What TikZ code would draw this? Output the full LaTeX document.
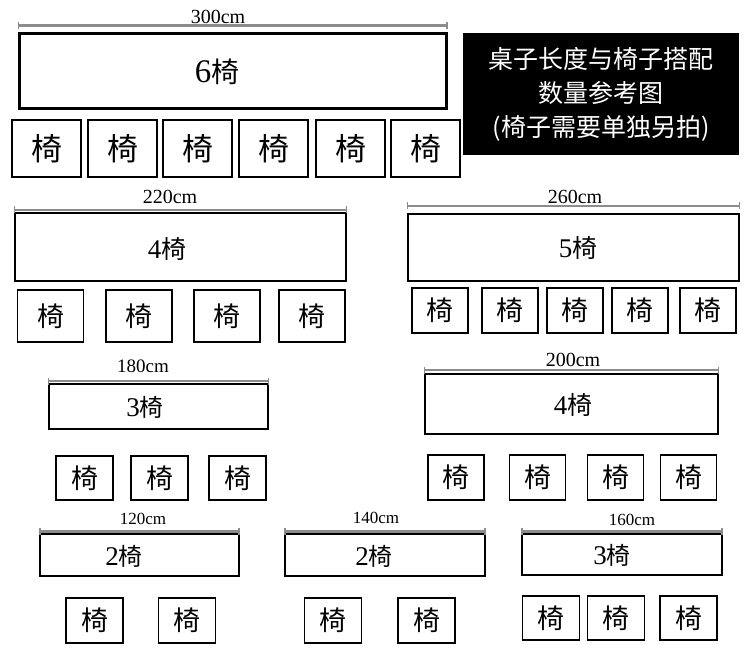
\documentclass[tikz,border=0pt]{standalone}
\usepackage{fontspec}
\setmainfont{Liberation Serif}
\newfontfamily\cjk{Noto Sans CJK SC}
\usetikzlibrary{arrows.meta}
\definecolor{dimGray}{HTML}{8C8C8C}

\begin{document}
\begin{tikzpicture}[x=1pt,y=-1pt,
  tbl/.style={draw,line width=#1,inner sep=0pt},
  chair/.style={draw,line width=1.8pt,inner sep=0pt,font=\cjk\fontsize{27}{27}\selectfont},
  tlbl/.style={inner sep=0pt,font=\fontsize{27}{27}\selectfont},
  dim/.style={draw=dimGray,line width=2.4pt,{Bar[width=7pt,line width=1.2pt]}-{Bar[width=7pt,line width=1.2pt]}},
  dlbl/.style={inner sep=0pt,font=\fontsize{20}{20}\selectfont}
]
\useasboundingbox (0,0) rectangle (750,661);
% tables
\node[tbl=3pt,minimum width=427pt,minimum height=74pt] (t300) at (232.5,71) {};
\node[tbl=2.2pt,minimum width=331pt,minimum height=68pt] (t220) at (180.5,247) {};
\node[tbl=2.2pt,minimum width=331pt,minimum height=67pt] (t260) at (573.5,247.5) {};
\node[tbl=1.5pt,minimum width=219pt,minimum height=45pt] (t180) at (158.5,406.5) {};
\node[tbl=2pt,minimum width=293pt,minimum height=60pt] (t200) at (571.5,404) {};
\node[tbl=1.3pt,minimum width=199pt,minimum height=42pt] (t120) at (139.5,555) {};
\node[tbl=1.3pt,minimum width=200pt,minimum height=42pt] (t140) at (385,555) {};
\node[tbl=1.3pt,minimum width=200pt,minimum height=41pt] (t160) at (622,554.5) {};
\node[tlbl,font=\fontsize{33}{33}\selectfont] (n300) at (217,72) {6{\cjk\fontsize{28}{28}\selectfont 椅}};
\node[tlbl] (n220) at (167,249) {4{\cjk\fontsize{25}{25}\selectfont 椅}};
\node[tlbl] (n260) at (578,248) {5{\cjk\fontsize{25}{25}\selectfont 椅}};
\node[tlbl] (n180) at (145,407) {3{\cjk\fontsize{24}{24}\selectfont 椅}};
\node[tlbl] (n200) at (573,405) {4{\cjk\fontsize{25}{25}\selectfont 椅}};
\node[tlbl] (n120) at (124,556) {2{\cjk\fontsize{24}{24}\selectfont 椅}};
\node[tlbl] (n140) at (374,556) {2{\cjk\fontsize{24}{24}\selectfont 椅}};
\node[tlbl] (n160) at (612,555) {3{\cjk\fontsize{24}{24}\selectfont 椅}};
% length marks
\foreach \t/\d in {t300/7,t220/2,t260/7,t180/2,t200/3,t120/2,t140/2,t160/2}
  \draw[dim] ([yshift=\d pt]\t.north west) -- ([yshift=\d pt]\t.north east);
\node[dlbl] (d300) at (218,17) {300cm};
\node[dlbl] (d220) at (170,197) {220cm};
\node[dlbl] (d260) at (575,197) {260cm};
\node[dlbl,font=\fontsize{19}{19}\selectfont] (d180) at (143,366) {180cm};
\node[dlbl] (d200) at (573,360) {200cm};
\node[dlbl,font=\fontsize{17}{17}\selectfont] (d120) at (143,519) {120cm};
\node[dlbl,font=\fontsize{17}{17}\selectfont] (d140) at (376,518) {140cm};
\node[dlbl,font=\fontsize{17}{17}\selectfont] (d160) at (632,520) {160cm};
% chairs
\foreach \x [count=\i] in {46.5,122.5,197.5,273.5,350.5,425.5}
  \node[chair,minimum width=69pt,minimum height=57pt,font=\cjk\fontsize{31}{31}\selectfont] (c300-\i) at (\x,148.5) {椅};
\foreach \x [count=\i] in {50.5,139,227,312}
  \node[chair,minimum width=66pt,minimum height=52pt] (c220-\i) at (\x,316) {椅};
\foreach \x [count=\i] in {440,510,575,640,708}
  \node[chair,minimum width=56pt,minimum height=45pt] (c260-\i) at (\x,310.5) {椅};
\foreach \x [count=\i] in {84.5,159.5,237.5}
  \node[chair,minimum width=57pt,minimum height=44pt] (c180-\i) at (\x,478) {椅};
\foreach \x [count=\i] in {456,537.5,615.5,688.5}
  \node[chair,minimum width=56pt,minimum height=45pt] (c200-\i) at (\x,477.5) {椅};
\foreach \x [count=\i] in {94.5,187}
  \node[chair,minimum width=57pt,minimum height=45pt] (c120-\i) at (\x,620.5) {椅};
\foreach \x [count=\i] in {333,426.5}
  \node[chair,minimum width=57pt,minimum height=45pt] (c140-\i) at (\x,620.5) {椅};
\foreach \x [count=\i] in {551,616,688.5}
  \node[chair,minimum width=57pt,minimum height=44pt] (c160-\i) at (\x,618) {椅};
% title
\node[fill=black,text=white,minimum width=276pt,minimum height=122pt,align=center,
  font=\cjk\fontsize{25}{34}\selectfont] (title) at (601,94)
  {桌子长度与椅子搭配\\数量参考图\\(椅子需要单独另拍)};
\end{tikzpicture}
\end{document}
